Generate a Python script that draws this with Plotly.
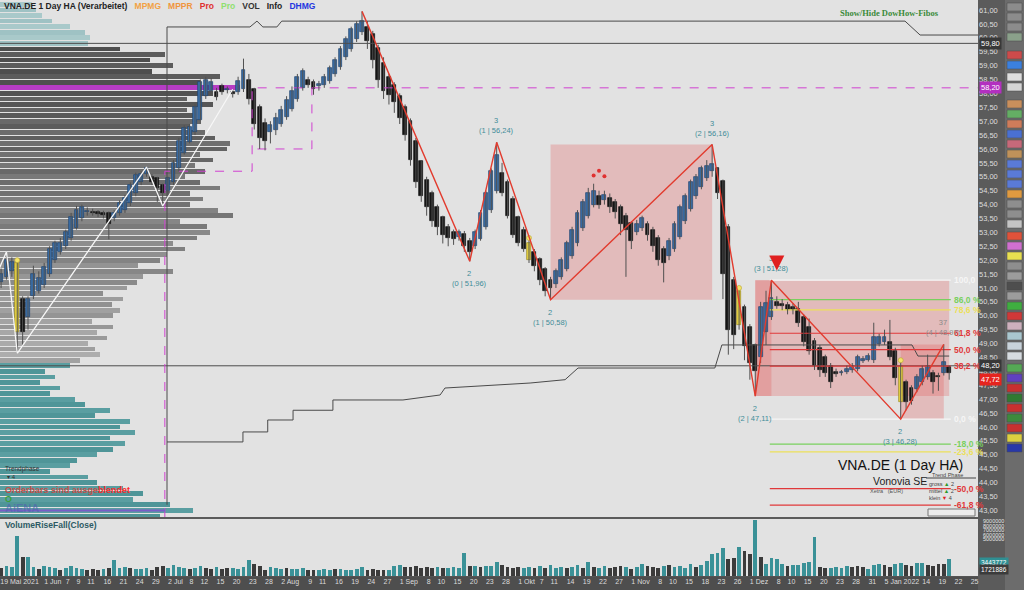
import pandas as pd
from datetime import date
import plotly.graph_objects as go

# ======================= DATA =======================
trade_dates = [d.strftime("%Y-%m-%d") for d in pd.bdate_range("2021-05-19", "2022-01-21")]

ha_open = [
    51.0, 51.2, 51.4, 51.6, 51.9, 50.6, 49.95, 50.7, 50.9, 51.1,
    51.5, 52.0, 52.3, 52.5, 52.8, 53.15, 53.5, 53.72, 53.75, 53.72,
    53.7, 53.7, 53.5, 53.7, 53.8, 54.05, 54.4, 54.8, 55.1, 55.0,
    54.95, 54.7, 54.5, 54.8, 55.3, 55.85, 56.25, 56.6, 57.05, 57.9,
    58.1, 58.05, 58.25, 58.12, 58.05, 58.05, 58.15, 58.5, 58.15, 57.5,
    56.95, 56.6, 56.7, 56.9, 57.15, 57.45, 57.8, 58.2, 58.5, 58.4,
    58.25, 58.3, 58.45, 58.7, 58.95, 59.3, 59.6, 59.95, 60.2, 60.4,
    60.15, 59.65, 59.1, 58.6, 58.3, 57.9, 57.5, 57.0, 56.3, 55.55,
    54.9, 54.4, 53.9, 53.55, 53.2, 53.0, 52.85, 52.95, 52.7, 52.5,
    52.75, 53.2, 53.8, 54.5, 55.15, 54.8, 54.2, 53.55, 53.1, 52.6,
    52.3, 52.05, 51.7, 51.3, 51.15, 51.4, 51.7, 52.15, 52.6, 53.15,
    53.6, 54.0, 54.3, 54.15, 54.25, 54.1, 53.9, 53.6, 53.35, 53.0,
    53.15, 53.3, 53.1, 52.8, 52.4, 52.15, 52.4, 52.85, 53.4, 53.85,
    54.3, 54.65, 54.95, 55.2, 55.3, 54.85, 53.2, 51.3, 50.9, 50.3,
    49.6, 48.95, 48.5, 49.4, 49.95, 50.5, 50.42, 50.38, 50.3, 50.25,
    49.95, 49.6, 49.1, 48.85, 48.5, 48.2, 47.95, 47.93, 47.98, 48.05,
    48.1, 48.38, 48.4, 48.4, 49.0, 49.05, 49.05, 48.75, 48.2, 47.6,
    47.4, 47.35, 47.6, 47.8, 47.95, 47.82, 47.95, 48.15,
]
ha_high = [
    51.3, 51.7, 52.3, 52.1, 52.0, 50.7, 50.7, 51.8, 51.6, 51.9,
    52.5, 52.7, 52.8, 53.1, 53.7, 53.95, 54.0, 53.9, 53.85, 53.8,
    53.78, 53.75, 53.8, 54.15, 54.35, 54.8, 55.15, 55.2, 55.35, 55.1,
    55.0, 54.75, 55.0, 55.6, 56.4, 56.85, 56.9, 57.6, 58.5, 58.6,
    58.55, 58.2, 58.35, 58.25, 58.15, 58.6, 59.25, 58.7, 58.2, 57.6,
    57.1, 57.0, 57.3, 57.55, 57.9, 58.25, 58.7, 58.9, 58.6, 58.5,
    58.45, 58.7, 59.0, 59.3, 59.7, 60.05, 60.4, 60.6, 60.95, 60.6,
    60.25, 59.75, 59.3, 58.7, 58.4, 58.0, 57.6, 57.1, 56.4, 55.6,
    55.0, 54.5, 54.0, 53.6, 53.3, 53.1, 53.1, 53.05, 52.8, 53.1,
    53.8, 54.5, 55.3, 56.24, 55.5, 54.9, 54.3, 53.6, 53.2, 52.8,
    52.4, 52.1, 51.75, 51.4, 51.7, 52.1, 52.7, 53.2, 53.8, 54.2,
    54.6, 54.75, 54.5, 54.5, 54.4, 54.2, 54.0, 53.7, 53.4, 53.45,
    53.6, 53.4, 53.2, 52.9, 52.5, 52.8, 53.4, 54.0, 54.4, 54.9,
    55.1, 55.4, 55.6, 56.16, 55.35, 54.9, 53.3, 51.4, 51.0, 50.4,
    49.7, 49.0, 50.5, 50.9, 51.28, 50.7, 50.6, 50.5, 50.45, 50.5,
    50.05, 49.9, 49.2, 48.95, 48.6, 48.3, 48.1, 48.05, 48.2, 48.3,
    48.6, 48.55, 48.65, 49.75, 49.35, 49.5, 49.85, 48.85, 48.4, 47.7,
    47.5, 47.9, 48.2, 48.6, 48.05, 47.95, 48.97, 48.2,
]
ha_low = [
    50.8, 51.0, 51.3, 51.4, 48.65, 48.9, 49.5, 50.6, 50.8, 51.0,
    51.4, 51.9, 52.2, 52.4, 52.7, 53.1, 53.4, 53.6, 53.6, 53.55,
    53.5, 52.75, 53.4, 53.6, 53.7, 53.95, 54.3, 54.7, 55.0, 54.7,
    54.1, 53.95, 54.3, 54.7, 55.2, 55.8, 56.2, 56.5, 56.9, 57.8,
    58.0, 57.75, 57.95, 58.0, 57.85, 57.95, 58.05, 57.6, 56.7, 56.0,
    55.95, 56.2, 56.5, 56.8, 57.05, 57.35, 57.7, 58.1, 58.2, 57.95,
    58.1, 58.2, 58.35, 58.6, 58.85, 59.2, 59.5, 59.85, 60.1, 59.6,
    58.9, 58.2, 57.8, 57.6, 57.3, 56.9, 56.3, 55.4, 54.6, 54.1,
    53.6, 53.2, 52.9, 52.6, 52.5, 52.55, 52.7, 52.3, 51.96, 52.4,
    52.7, 53.1, 53.7, 54.4, 54.3, 53.5, 52.8, 52.5, 52.3, 51.9,
    51.6, 51.1, 50.7, 50.58, 51.0, 51.3, 51.6, 52.05, 52.5, 53.05,
    53.5, 53.9, 53.85, 54.0, 53.7, 53.5, 52.9, 51.4, 52.4, 52.9,
    53.05, 52.7, 52.3, 51.8, 51.2, 52.0, 52.3, 52.75, 53.3, 53.75,
    54.2, 54.55, 54.85, 55.0, 54.2, 50.6, 48.6, 48.8, 49.5, 48.4,
    47.7, 47.11, 48.3, 48.95, 49.85, 50.25, 50.2, 50.05, 50.05, 49.6,
    48.9, 48.6, 48.05, 47.8, 47.8, 47.4, 47.8, 47.85, 47.9, 47.95,
    48.0, 48.3, 48.35, 48.3, 48.9, 48.95, 48.4, 47.5, 46.28, 46.6,
    46.8, 47.25, 47.5, 47.7, 47.2, 47.3, 47.85, 47.7,
]
ha_close = [
    51.2, 51.5, 52.0, 51.95, 49.4, 49.4, 50.6, 51.5, 51.35, 51.75,
    52.4, 52.6, 52.6, 53.0, 53.55, 53.8, 53.9, 53.78, 53.68, 53.65,
    53.62, 53.3, 53.7, 54.05, 54.25, 54.7, 55.05, 55.1, 55.3, 54.8,
    54.6, 54.4, 54.95, 55.5, 56.3, 56.75, 56.8, 57.5, 58.4, 58.5,
    58.4, 57.88, 58.05, 58.15, 57.98, 58.45, 58.85, 57.8, 56.9, 56.4,
    56.3, 56.85, 57.1, 57.4, 57.75, 58.1, 58.6, 58.8, 58.3, 58.15,
    58.35, 58.6, 58.9, 59.2, 59.6, 59.95, 60.3, 60.5, 60.6, 59.9,
    59.2, 58.5, 58.1, 57.95, 57.7, 57.1, 56.5, 55.6, 54.8, 54.3,
    53.9, 53.4, 53.2, 52.9, 52.8, 52.75, 53.0, 52.5, 52.3, 53.0,
    53.7, 54.4, 55.2, 55.8, 54.4, 53.6, 52.9, 52.6, 52.4, 52.0,
    51.8, 51.3, 50.9, 51.0, 51.6, 52.0, 52.6, 53.1, 53.7, 54.1,
    54.4, 54.5, 54.0, 54.35, 53.9, 53.75, 53.3, 53.1, 52.7, 53.3,
    53.5, 52.9, 52.5, 52.0, 51.9, 52.7, 53.3, 53.9, 54.3, 54.8,
    55.0, 55.3, 55.4, 55.45, 54.4, 51.5, 49.5, 49.3, 49.65, 48.9,
    48.3, 48.0, 50.3, 50.45, 50.65, 50.35, 50.36, 50.2, 50.2, 49.75,
    49.05, 48.75, 48.2, 48.05, 47.95, 47.6, 47.92, 47.97, 48.1, 48.2,
    48.5, 48.45, 48.55, 49.25, 49.25, 49.25, 48.5, 47.75, 46.9, 46.9,
    46.95, 47.8, 48.1, 48.2, 47.6, 47.78, 48.35, 47.95,
]

volume_mio = [
    2.6, 2.0, 2.4, 2.2, 10.0, 4.8, 4.6, 2.3, 1.8, 2.5,
    2.2, 2.0, 1.6, 1.9, 2.4, 1.9, 1.7, 1.5, 1.8, 1.5,
    1.7, 2.0, 3.9, 2.1, 2.2, 1.9, 1.7, 1.8, 2.0, 1.6,
    2.2, 2.4, 2.0, 2.6, 2.3, 2.1, 1.8, 1.9, 2.4, 2.1,
    1.8, 2.3, 1.7, 1.9, 2.0, 1.8, 2.2, 4.0, 3.0, 2.5,
    1.6, 2.2, 2.0, 1.8, 2.0, 1.7, 1.8, 1.9, 1.5, 1.6,
    1.6, 1.7, 1.6, 1.7, 1.7, 1.6, 1.5, 1.8, 2.2, 1.6,
    1.7, 1.5, 1.6, 1.5, 2.5, 2.6, 2.2, 2.3, 2.4, 2.0,
    2.3, 2.0, 2.2, 2.1, 2.0, 2.3, 2.0, 5.8, 2.4, 2.5,
    2.2, 2.4, 2.5, 3.5, 2.6, 2.3, 2.0, 2.2, 2.0, 2.3,
    2.1, 2.4, 2.0, 2.6, 2.1, 2.3, 1.9, 2.2, 2.7, 2.0,
    3.4, 2.3, 2.0, 2.4, 2.1, 2.2, 2.5, 2.3, 1.8, 2.2,
    3.0, 2.4, 2.2, 2.1, 2.5, 2.7, 2.2, 2.4, 2.1, 2.9,
    2.3, 2.6, 3.8, 5.4, 5.8, 7.0, 4.2, 4.4, 7.1, 6.1,
    5.5, 13.8, 4.8, 3.0, 4.5, 4.3, 3.0, 2.5, 2.8, 2.6,
    3.1, 3.4, 9.7, 2.3, 2.1, 2.0, 2.2, 2.0, 2.5, 2.2,
    2.4, 2.3, 1.8, 2.6, 2.9, 2.8, 2.3, 2.9, 3.3, 2.8,
    2.5, 3.1, 3.2, 2.7, 2.4, 2.9, 3.0, 4.1,
]
volume_rise = [
    1, 0, 1, 1, 1, 0, 1, 1, 0, 1,
    1, 1, 0, 1, 1, 1, 1, 0, 0, 0,
    1, 0, 1, 1, 1, 0, 1, 1, 1, 0,
    0, 0, 1, 1, 1, 1, 0, 1, 1, 0,
    0, 1, 0, 0, 1, 1, 1, 1, 0, 0,
    0, 1, 1, 1, 0, 1, 1, 1, 0, 0,
    1, 1, 1, 0, 1, 1, 1, 1, 1, 0,
    0, 0, 0, 1, 1, 1, 0, 0, 0, 0,
    0, 0, 1, 0, 1, 1, 1, 1, 0, 1,
    0, 1, 1, 1, 0, 0, 0, 0, 1, 1,
    0, 1, 0, 1, 1, 1, 0, 1, 1, 0,
    1, 0, 1, 1, 0, 0, 0, 1, 0, 1,
    1, 0, 0, 0, 1, 0, 1, 1, 1, 1,
    0, 1, 1, 1, 1, 1, 0, 0, 1, 0,
    0, 1, 0, 1, 1, 1, 1, 0, 1, 1,
    1, 1, 1, 0, 0, 1, 1, 1, 1, 0,
    0, 0, 1, 1, 1, 0, 0, 1, 1, 0,
    0, 1, 1, 0, 0, 0, 0, 1,
]

signal_bar_dates = ["2021-05-25", "2021-10-05", "2021-11-29", "2022-01-10"]

zigzag_dates = ["2021-08-23", "2021-09-20", "2021-09-27", "2021-10-11", "2021-11-22",
                "2021-12-02", "2021-12-07", "2022-01-10", "2022-01-20"]
zigzag_price = [60.95, 51.96, 56.24, 50.58, 56.16, 47.11, 51.28, 46.28, 48.97]
zigzag_wave = ["", "2", "3", "2", "3", "2", "3", "2", "37"]
zigzag_count = [None, 0, 1, 1, 2, 2, 3, 3, 4]

trend_dates = ["2021-05-19", "2021-05-21", "2021-05-25", "2021-06-28", "2021-07-01", "2021-07-20"]
trend_price = [51.4, 52.3, 48.65, 55.35, 53.95, 58.15]

fib_levels = [100.0, 86.0, 78.6, 61.8, 50.0, 38.2, 0.0, -18.0, -23.6, -50.0, -61.8]

ref_levels = [59.80, 48.20]
poc_price = 58.20
last_price = 47.72

pattern_dates = ["2021-10-21", "2021-10-22", "2021-10-25"]
pattern_price = [55.05, 55.22, 55.02]

# channel lines (bar-index position, price)
band_upper_x = [31.8, 31.8, 47.2, 48.5, 49.6, 52.2, 53.1, 168.8, 171.6, 182.4]
band_upper_y = [43.2, 60.39, 60.39, 60.6, 60.39, 60.39, 60.6, 60.6, 60.1, 60.1]
band_lower_x = [31.8, 45.9, 45.9, 50.5, 50.5, 55.2, 55.2, 62.6, 62.6, 75.6, 82.5, 83.4,
                99.2, 105.7, 108.1, 133.5, 134.8, 170.1, 171.2, 177.0]
band_lower_y = [45.46, 45.46, 45.82, 45.82, 46.25, 46.25, 46.6, 46.6, 46.97, 46.97, 47.15, 47.4,
                47.58, 47.7, 48.12, 48.12, 48.95, 48.95, 48.55, 48.55]
poc_path_x = [31.4, 31.4, 47.6, 47.6, 182.4]
poc_path_y = [42.76, 55.2, 55.2, 58.2, 58.2]
poc_path2_x = [48.6, 58.7, 58.7]
poc_path2_y = [56.0, 56.0, 58.2]

# volume profile, bins of 0.20 starting at 42.80 (relative volume)
profile_start = 42.8
profile_volume = [
    160, 193, 170, 133, 143, 123, 97, 88, 50, 70,
    77, 97, 113, 125, 110, 135, 120, 130, 95, 110,
    85, 75, 50, 60, 40, 55, 45, 70, 80, 100,
    95, 88, 107, 97, 113, 92, 113, 120, 112, 123,
    103, 127, 137, 143, 173, 138, 160, 167, 185, 173,
    197, 210, 207, 180, 233, 218, 190, 203, 190, 220,
    200, 185, 205, 195, 213, 200, 227, 230, 215, 205,
    190, 200, 193, 187, 213, 187, 213, 240, 200, 220,
    152, 173, 150, 165, 120, 88, 90, 85, 70, 52,
    42, 36, 32,
]

tick_dates = ["2021-05-19", "2021-06-01", "2021-06-07", "2021-06-09", "2021-06-11", "2021-06-16",
              "2021-06-21", "2021-06-24", "2021-06-29", "2021-07-02", "2021-07-08", "2021-07-12",
              "2021-07-15", "2021-07-20", "2021-07-23", "2021-07-28", "2021-08-02", "2021-08-09",
              "2021-08-11", "2021-08-16", "2021-08-19", "2021-08-24", "2021-08-27", "2021-09-01",
              "2021-09-08", "2021-09-10", "2021-09-15", "2021-09-20", "2021-09-23", "2021-09-28",
              "2021-10-01", "2021-10-07", "2021-10-11", "2021-10-14", "2021-10-19", "2021-10-22",
              "2021-10-27", "2021-11-01", "2021-11-08", "2021-11-10", "2021-11-15", "2021-11-18",
              "2021-11-23", "2021-11-26", "2021-12-01", "2021-12-08", "2021-12-10", "2021-12-15",
              "2021-12-20", "2021-12-23", "2021-12-28", "2021-12-31", "2022-01-05", "2022-01-14",
              "2022-01-19", "2022-01-22", "2022-01-25"]
tick_text = ["19 Mai 2021", "1 Jun", "7", "9", "11", "16", "21", "24", "29", "2 Jul", "8", "12",
             "15", "20", "23", "28", "2 Aug", "9", "11", "16", "19", "24", "27", "1 Sep",
             "8", "10", "15", "20", "23", "28", "1 Okt", "7", "11", "14", "19", "22",
             "27", "1 Nov", "8", "10", "15", "18", "23", "26", "1 Dez", "8", "10", "15",
             "20", "23", "28", "31", "5 Jan 2022", "14", "19", "22", "25"]

vol_scale_labels = ["9000000", "8000000", "7000000", "6000000", "5000000"]
vol_marks = [3443772, 1721886]

# ======================= BUILD =======================
n = len(trade_dates)
assert len(ha_open) == n and len(ha_high) == n and len(ha_low) == n and len(ha_close) == n
assert len(volume_mio) == n and len(volume_rise) == n

pos = {d: i for i, d in enumerate(trade_dates)}
last_day = date.fromisoformat(trade_dates[-1])
X_RANGE = [0.80, 182.35]


def date_pos(s):
    if s in pos:
        return pos[s]
    return (n - 1) + (date.fromisoformat(s) - last_day).days


idx = list(range(n))
W, H = 978.0, 576.0


def px(x):
    return x / W


def py(y):
    return 1 - y / H


FONT = "Liberation Sans"
BLUE, BLUE_LINE = "#3a6ea6", "#1f436e"
BLACK = "#141414"
YELLOW, YELLOW_LINE = "#e6d243", "#9a8a1e"

signal_idx = set(date_pos(d) for d in signal_bar_dates)

fig = go.Figure()

# ---- volume profile (base axis) ----
prof_price = [round(profile_start + 0.2 * k, 2) for k in range(len(profile_volume))]
prof_colors = []
for k, p in enumerate(prof_price):
    if abs(p - poc_price) < 0.05:
        prof_colors.append("#b63cc4")
    elif p >= 59.75:
        prof_colors.append("#9fc2c4" if k % 2 else "#a9c9ca")
    elif p <= 48.25:
        prof_colors.append("#5a9ea1" if k % 2 else "#4f9598")
    else:
        t = min(max((58.6 - p) / 10.4, 0), 1)
        g = int(78 + 85 * t + (14 if k % 2 else 0))
        prof_colors.append(f"rgb({g},{g},{g})")
fig.add_trace(go.Bar(x=profile_volume, y=prof_price, orientation="h", width=0.17,
                     marker=dict(color=prof_colors, line=dict(width=0)),
                     xaxis="x", yaxis="y", hoverinfo="skip"))

# ---- channel / reference lines ----
fig.add_trace(go.Scatter(x=band_upper_x, y=band_upper_y, mode="lines",
                         line=dict(color="#4a4a4a", width=1), xaxis="x2", yaxis="y", hoverinfo="skip"))
fig.add_trace(go.Scatter(x=band_lower_x, y=band_lower_y, mode="lines",
                         line=dict(color="#4a4a4a", width=1), xaxis="x2", yaxis="y", hoverinfo="skip"))
for lv in ref_levels:
    fig.add_trace(go.Scatter(x=X_RANGE, y=[lv, lv], mode="lines",
                             line=dict(color="#4d4d4d", width=1), xaxis="x2", yaxis="y", hoverinfo="skip"))
fig.add_trace(go.Scatter(x=poc_path_x, y=poc_path_y, mode="lines",
                         line=dict(color="#d040d0", width=1, dash="dash"), xaxis="x2", yaxis="y", hoverinfo="skip"))
fig.add_trace(go.Scatter(x=poc_path2_x, y=poc_path2_y, mode="lines",
                         line=dict(color="#d040d0", width=1, dash="dash"), xaxis="x2", yaxis="y", hoverinfo="skip"))

# ---- fib levels ----
zz_idx = [date_pos(d) for d in zigzag_dates]
fib_lo, fib_hi = zigzag_price[7], zigzag_price[6]
fib_start = zz_idx[6]


def fib_color(l):
    a = abs(l)
    if a in (86.0, 18.0):
        return "#79d05e"
    if a in (78.6, 23.6):
        return "#ece05a"
    if a in (100.0, 0.0):
        return "#f6f6f6"
    return "#e0383a"


for lvl in fib_levels:
    p = fib_lo + (fib_hi - fib_lo) * lvl / 100.0
    fig.add_trace(go.Scatter(x=[fib_start - 0.3, n - 1 + 0.3], y=[p, p], mode="lines",
                             line=dict(color=fib_color(lvl), width=1.2), xaxis="x2", yaxis="y",
                             hoverinfo="skip"))

# ---- candles: wicks + bodies ----
wx, wy = [], []
for i in idx:
    wx += [i, i, None]
    wy += [ha_low[i], ha_high[i], None]
fig.add_trace(go.Scatter(x=wx, y=wy, mode="lines", line=dict(color="#505050", width=1),
                         xaxis="x2", yaxis="y", hoverinfo="skip"))

base, height, fill, outline = [], [], [], []
for i in idx:
    o, c = ha_open[i], ha_close[i]
    base.append(min(o, c))
    height.append(max(abs(c - o), 0.04))
    if i in signal_idx:
        fill.append(YELLOW); outline.append(YELLOW_LINE)
    elif c >= o:
        fill.append(BLUE); outline.append(BLUE_LINE)
    else:
        fill.append(BLACK); outline.append(BLACK)
fig.add_trace(go.Bar(x=idx, y=height, base=base, width=0.72,
                     marker=dict(color=fill, line=dict(color=outline, width=0.7)),
                     xaxis="x2", yaxis="y", hoverinfo="skip"))

sig_sorted = sorted(signal_idx)
fig.add_trace(go.Scatter(x=sig_sorted, y=[ha_high[i] for i in sig_sorted], mode="markers",
                         marker=dict(color="#f3e46a", size=5, line=dict(color="#b8a530", width=0.6)),
                         xaxis="x2", yaxis="y", hoverinfo="skip"))

# ---- zigzags ----
fig.add_trace(go.Scatter(x=[date_pos(d) for d in trend_dates], y=trend_price, mode="lines",
                         line=dict(color="#f7f7f7", width=1.3), xaxis="x2", yaxis="y", hoverinfo="skip"))
fig.add_trace(go.Scatter(x=zz_idx, y=zigzag_price, mode="lines",
                         line=dict(color="#e23b2e", width=1.4), xaxis="x2", yaxis="y", hoverinfo="skip"))
fig.add_trace(go.Scatter(x=[date_pos(d) for d in pattern_dates], y=pattern_price, mode="markers",
                         marker=dict(color="#e03030", size=4), xaxis="x2", yaxis="y", hoverinfo="skip"))

# ---- volume ----
fig.add_trace(go.Bar(x=idx, y=volume_mio, width=0.7,
                     marker=dict(color=["#3a9197" if r else "#3b3b3b" for r in volume_rise], line=dict(width=0)),
                     xaxis="x3", yaxis="y2", hoverinfo="skip"))

# ======================= SHAPES =======================
shapes = []
BOX = "rgba(225,95,95,0.30)"
box_specs = [(zz_idx[3], zz_idx[4], zigzag_price[3], zigzag_price[4]),
             (zz_idx[5], zz_idx[6], zigzag_price[5], zigzag_price[6]),
             (zz_idx[5], n - 1, zigzag_price[5], zigzag_price[6]),
             (zz_idx[7], zz_idx[8], zigzag_price[7], zigzag_price[8])]
for a, b, lo, hi in box_specs:
    shapes.append(dict(type="rect", xref="x2", yref="y", x0=a, x1=b, y0=lo, y1=hi,
                       fillcolor=BOX, line=dict(width=0), layer="below"))

# date strip and right button column
shapes.append(dict(type="rect", xref="paper", yref="paper", x0=0, x1=1, y0=py(590), y1=py(576.5),
                   fillcolor="#4e4e4e", line=dict(width=0), layer="below"))
shapes.append(dict(type="rect", xref="paper", yref="paper", x0=px(1005), x1=px(1024), y0=py(590), y1=py(0),
                   fillcolor="#6c6c6c", line=dict(width=0), layer="below"))
buttons = [(3, "#8c8c8c"), (13, "#8c8c8c"), (23, "#8c8c8c"), (33, "#8aa08a"), (51, "#cc4b4b"),
           (61, "#3b80df"), (73, "#dedede"), (83, "#d6d6d6"), (100, "#c98f5c"), (110, "#64ae64"),
           (120, "#cf7c5a"), (130, "#4a70d2"), (140, "#c7697a"), (150, "#c0925a"), (160, "#5a7ad8"),
           (170, "#5a7ad8"), (180, "#5a7ad8"), (190, "#e09a40"), (200, "#8e8e8e"), (210, "#8e8e8e"),
           (220, "#c4c4c4"), (232, "#e0523a"), (242, "#d070d0"), (252, "#e8e050"), (262, "#8e8e8e"),
           (272, "#9c9c9c"), (282, "#4e4e4e"), (292, "#9c9c9c"), (302, "#3fae40"), (312, "#d03838"),
           (322, "#cdb0bd"), (332, "#a9c7cf"), (342, "#c8d2da"), (352, "#d6dbe0"), (364, "#55a855"),
           (374, "#6040c0"), (384, "#c83030"), (394, "#2f7a32"), (404, "#c83030"), (414, "#3d8a3d"),
           (424, "#c83030"), (434, "#dcd040"), (444, "#2838a8")]
for yb, col in buttons:
    shapes.append(dict(type="rect", xref="paper", yref="paper", x0=px(1007), x1=px(1022),
                       y0=py(yb + 8), y1=py(yb), fillcolor=col, line=dict(color="#4a4a4a", width=0.5)))
# info box decorations
shapes.append(dict(type="line", xref="paper", yref="paper", x0=px(926), x1=px(976), y0=py(478), y1=py(478),
                   line=dict(color="#444", width=1)))
shapes.append(dict(type="rect", xref="paper", yref="paper", x0=px(928), x1=px(975), y0=py(516), y1=py(509),
                   fillcolor="#ececec", line=dict(color="#777", width=1)))
shapes.append(dict(type="line", xref="paper", yref="paper", x0=0, x1=px(165), y0=py(510.5), y1=py(510.5),
                   line=dict(color="#7a5cc8", width=2)))

# ======================= ANNOTATIONS =======================
ann = []


def txt(x, y, text, size=8, color="#222", xanchor="left", yanchor="middle", family=FONT, **kw):
    d = dict(x=x, y=y, xref="paper", yref="paper", text=text, showarrow=False,
             xanchor=xanchor, yanchor=yanchor, font=dict(family=family, size=size, color=color))
    d.update(kw)
    ann.append(d)


txt(px(2), py(6),
    "<b>VNA.DE 1 Day HA (Verarbeitet)</b>   <b><span style='color:#f2a144'>MPMG</span>   "
    "<span style='color:#f0953e'>MPPR</span>   <span style='color:#e03030'>Pro</span>   "
    "<span style='color:#8fe070'>Pro</span>   <span style='color:#333'>VOL</span>   "
    "<span style='color:#222'>Info</span>   <span style='color:#2437e0'>DHMG</span></b>", size=8.5)
txt(px(838), py(13), "<b>Show/Hide DowHow-Fibos</b>", size=8.5, color="#3a8a3a", family="Liberation Serif")

# fib labels
for lvl in fib_levels:
    p = fib_lo + (fib_hi - fib_lo) * lvl / 100.0
    label = "100,0" if lvl == 100.0 else (f"{lvl:.1f} %".replace(".", ","))
    ann.append(dict(x=px(952), y=p, xref="paper", yref="y", text=f"<b>{label}</b>", showarrow=False,
                    xanchor="left", yanchor="middle",
                    font=dict(family=FONT, size=8.5, color=fib_color(lvl))))

# zigzag labels
for k in range(1, len(zz_idx)):
    price_txt = f"{zigzag_price[k]:.2f}".replace(".", ",")
    t = f"{zigzag_wave[k]}<br>({zigzag_count[k]} | {price_txt})"
    is_low = zigzag_price[k] < zigzag_price[k - 1]
    col = "#8a8a8a" if k == len(zz_idx) - 1 else "#3f8c98"
    ann.append(dict(x=zz_idx[k], y=zigzag_price[k], xref="x2", yref="y", text=t, showarrow=False,
                    xanchor="center", yanchor="top" if is_low else "bottom",
                    yshift=-6 if is_low else 5,
                    font=dict(family=FONT, size=7.5, color=col)))

# red arrow over swing high
ann.append(dict(x=zz_idx[6] + 1, y=zigzag_price[6] + 0.35, xref="x2", yref="y", text="",
                showarrow=True, ax=0, ay=-14, arrowhead=2, arrowsize=1, arrowwidth=3,
                arrowcolor="#e02020"))

# right axis value boxes
for val, bg in [(ref_levels[0], "#383838"), (poc_price, "#b32fc0"), (ref_levels[1], "#383838"),
                (last_price, "#e5241f")]:
    ann.append(dict(x=px(979), y=val, xref="paper", yref="y", text=f"{val:.2f}".replace(".", ","),
                    showarrow=False, xanchor="left", yanchor="middle", bgcolor=bg, borderpad=1,
                    font=dict(family=FONT, size=7.5, color="#ffffff")))

# volume axis labels
for k, lab in enumerate(vol_scale_labels):
    txt(px(981), py(521 + 4.5 * k), lab, size=5.5, color="#e6e6e6")
ann.append(dict(x=px(979), y=vol_marks[0] / 1e6, xref="paper", yref="y2", text=str(vol_marks[0]),
                showarrow=False, xanchor="left", yanchor="middle", bgcolor="#2f8f93", borderpad=1,
                font=dict(family=FONT, size=6.5, color="#ffffff")))
ann.append(dict(x=px(979), y=vol_marks[1] / 1e6, xref="paper", yref="y2", text=str(vol_marks[1]),
                showarrow=False, xanchor="left", yanchor="middle", bgcolor="#3b3b3b", borderpad=1,
                font=dict(family=FONT, size=6.5, color="#ffffff")))

# info box
txt(px(965), py(465), "VNA.DE (1 Day HA)", size=14, color="#111", xanchor="right")
txt(px(929), py(481), "Vonovia SE", size=10.5, color="#222", xanchor="right")
txt(px(905), py(490.5), "Xetra   (EUR)", size=5.5, color="#555", xanchor="right")
txt(px(930), py(474.5), "Trend Phase", size=5.5, color="#444")
txt(px(927), py(484), "gross <span style='color:#2a9a2a'>▲</span> 2", size=5.5, color="#444")
txt(px(927), py(491), "mittel <span style='color:#2a9a2a'>▲</span> 2", size=5.5, color="#444")
txt(px(927), py(498), "klein <span style='color:#e02020'>▼</span> 4", size=5.5, color="#444")

# left bottom texts
txt(px(3), py(469), "Trendphase", size=6.5, color="#333")
txt(px(5), py(477), "▾ 4", size=6, color="#333")
txt(px(3), py(489.5),
    "<b><span style='color:#c4504a'>Orderbars sind ausge</span><span style='color:#ff2a2a'>blendet</span></b>",
    size=9)
txt(px(3), py(499), "<b>O</b>", size=9, color="#3aa03a")
txt(px(3), py(508), "<b>AiENA</b>", size=11, color="rgba(80,100,175,0.65)")
txt(px(3), py(525), "<b>VolumeRiseFall(Close)</b>", size=8.5, color="#2d5a64")

# ======================= LAYOUT =======================
tickvals = [max(date_pos(s), X_RANGE[0] + 0.05) for s in tick_dates]

fig.update_layout(
    width=1024, height=590,
    margin=dict(l=0, r=46, t=0, b=14),
    paper_bgcolor="#5b5b5b", plot_bgcolor="#e2e2e2",
    showlegend=False, barmode="overlay", bargap=0,
    separators=",.",
    font=dict(family=FONT),
    xaxis=dict(domain=[0, 1], range=[0, W], visible=False, anchor="y", fixedrange=True),
    xaxis2=dict(domain=[0, 1], range=X_RANGE, overlaying="x", anchor="y", visible=False),
    xaxis3=dict(domain=[0, 1], range=X_RANGE, anchor="y2", showgrid=False, zeroline=False,
                tickmode="array", tickvals=tickvals, ticktext=tick_text, ticks="",
                tickangle=0, ticklabelposition="outside right", ticklabeloverflow="allow",
                tickfont=dict(family=FONT, size=7, color="#dcdcdc"), showline=False),
    yaxis=dict(domain=[1 - 517 / H, 1], range=[42.76, 61.36], side="right", showgrid=False,
               zeroline=False, tick0=43, dtick=0.5, tickformat=".2f", ticks="",
               tickfont=dict(family=FONT, size=7.5, color="#dedede")),
    yaxis2=dict(domain=[0, 1 - 519 / H], range=[0, 14.1], side="right", showgrid=False,
                zeroline=False, showticklabels=False),
    shapes=shapes,
    annotations=ann,
)

fig.write_html("out.html", config={"displayModeBar": False},
               post_script="document.body.style.margin='0';document.body.style.overflow='hidden';")
